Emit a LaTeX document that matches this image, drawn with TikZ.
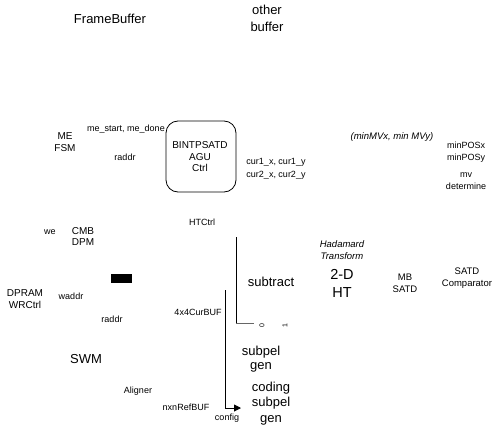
\documentclass[tikz,border=0pt]{standalone}
\usepackage{fontspec}
\setmainfont{Liberation Sans}
\usetikzlibrary{arrows.meta}
\begin{document}
\begin{tikzpicture}[x=1pt,y=-1pt,
  every node/.style={inner sep=0pt,align=center},
  sm/.style={font=\fontsize{9}{12}\selectfont},
  md/.style={font=\fontsize{10}{11.5}\selectfont},
  bg/.style={font=\fontsize{13}{17}\selectfont},
  sigline/.style={line width=0.9pt},
  grayline/.style={line width=1pt, draw=black!60}]
\useasboundingbox (0,0) rectangle (494,425);
% top
\node[bg] (fb) at (110,19) {FrameBuffer};
\node[bg] (ob) at (267,18.5) {other\\buffer};
% control
\node[md] (mefsm) at (65,142) {ME\\FSM};
\node[sm] (mesig) at (126,129) {me\_start, me\_done};
\node[sm] (raddr1) at (125,157) {raddr};
\node[md, draw, rounded corners=12pt, minimum width=70pt, minimum height=71pt, line width=0.8pt] (agu) at (201,156.5) {};
\node[md] (agutxt) at (200,157) {BINTPSATD\\AGU\\Ctrl};
\node[sm, font=\fontsize{9}{13}\selectfont] (cur) at (276,168.5) {cur1\_x, cur1\_y\\cur2\_x, cur2\_y};
\node[sm, font=\fontsize{9.5}{12}\itshape] (minmv) at (392,137) {(minMVx, min MVy)};
\node[sm] (minpos) at (466,152) {minPOSx\\minPOSy};
\node[sm] (mvdet) at (466,181) {mv\\determine};
\node[sm] (htctrl) at (202,222) {HTCtrl};
% left memory
\node[sm] (we) at (50,232) {we};
\node[md, font=\fontsize{10}{11}\selectfont] (cmb) at (83,236.5) {CMB\\DPM};
\fill[black] (111,274) rectangle (132,283);
\node[md, font=\fontsize{10}{12}\selectfont] (dpram) at (25,299) {DPRAM\\WRCtrl};
\node[sm] (waddr) at (71,296) {waddr};
\node[sm] (raddr2) at (112,319) {raddr};
\node[sm] (curbuf) at (198,312) {4x4CurBUF};
\node[bg] (swm) at (86,359) {SWM};
\node[sm] (aligner) at (138,391) {Aligner};
\node[sm] (refbuf) at (186,407) {nxnRefBUF};
\node[sm] (config) at (227,418) {config};
% datapath
\node[bg] (sub) at (271,282) {subtract};
\node[sm, font=\fontsize{9.5}{12}\itshape] (hada) at (342,250) {Hadamard\\Transform};
\node[bg, font=\fontsize{14.5}{18}\selectfont] (ht) at (342,283) {2-D\\HT};
\node[sm, font=\fontsize{9.5}{12}\selectfont] (mbsatd) at (405,283) {MB\\SATD};
\node[sm, font=\fontsize{9.5}{12}\selectfont] (comp) at (467,278) {SATD\\Comparator};
\node[bg, font=\fontsize{13}{14}\selectfont] (subpel) at (261,359) {subpel\\gen};
\node[bg, font=\fontsize{13}{15.5}\selectfont] (csub) at (271,403.5) {coding\\subpel\\gen};
\node[sm, font=\fontsize{7}{8}\selectfont, rotate=90] (zero) at (262,326) {0};
\node[sm, font=\fontsize{7}{8}\selectfont, rotate=90] (one) at (285,326) {1};
% lines
\coordinate (l1a) at (236,237);
\coordinate (l1b) at (236,323);
\coordinate (l1c) at (254,323);
\draw[sigline] (l1a) -- (l1b);
\draw[grayline] (l1b) -- (l1c);
\coordinate (l2a) at (225,290);
\coordinate (l2b) at (225,408);
\coordinate (l2c) at (241,408);
\draw[sigline, -{Triangle[length=7pt,width=7pt]}] (l2a) -- (l2b) -- (l2c);
\end{tikzpicture}
\end{document}
